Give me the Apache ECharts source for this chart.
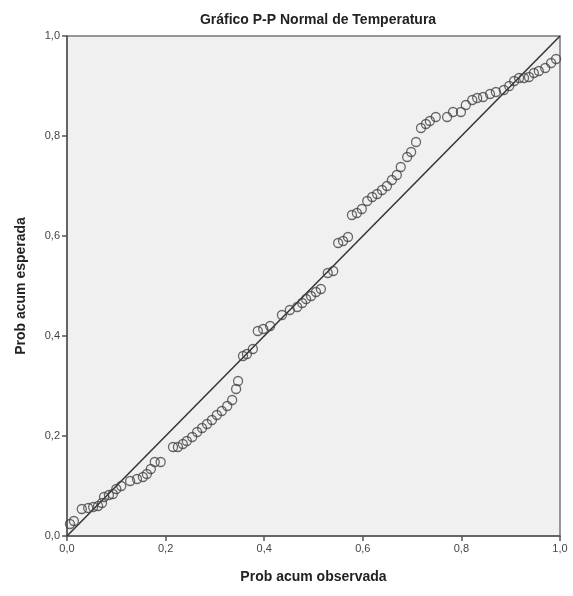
<!DOCTYPE html>
<html><head><meta charset="utf-8">
<script src="https://cdn.jsdelivr.net/npm/echarts@6/dist/echarts.min.js"></script>
<style>html,body{margin:0;padding:0;background:#fff}#c{width:573px;height:596px}</style>
</head><body><div id="c"></div>
<script>
var titleText = "Gráfico P-P Normal de Temperatura";
var xLabel = "Prob acum observada";
var yLabel = "Prob acum esperada";
var tickValues = [0, 0.2, 0.4, 0.6, 0.8, 1.0];
var observed = [0.006,0.014,0.030,0.043,0.053,0.063,0.071,0.075,0.085,0.093,0.100,0.110,0.128,0.142,0.154,0.162,0.170,0.178,0.190,
0.215,0.225,0.235,0.243,0.254,0.264,0.274,0.284,0.294,0.304,0.314,0.325,0.335,0.343,0.347,0.357,0.365,0.377,0.387,0.398,0.412,
0.436,0.452,0.467,0.477,0.485,0.495,0.505,0.515,0.529,0.540,0.550,0.560,0.570,0.578,0.588,0.598,0.609,0.619,0.629,0.639,0.649,
0.659,0.669,0.677,0.690,0.698,0.708,0.718,0.728,0.736,0.748,0.771,0.783,0.799,0.809,0.822,0.832,0.844,0.858,0.870,0.886,0.897,
0.907,0.917,0.927,0.937,0.947,0.957,0.970,0.982,0.992];
var expected = [0.024,0.030,0.054,0.056,0.058,0.060,0.066,0.078,0.082,0.084,0.094,0.100,0.110,0.114,0.118,0.124,0.134,0.148,0.148,
0.178,0.178,0.184,0.190,0.198,0.208,0.216,0.224,0.232,0.242,0.250,0.260,0.272,0.294,0.310,0.360,0.364,0.374,0.410,0.414,0.420,
0.442,0.452,0.458,0.466,0.474,0.480,0.488,0.494,0.526,0.530,0.586,0.590,0.598,0.642,0.646,0.654,0.670,0.678,0.684,0.692,0.700,
0.712,0.722,0.738,0.758,0.768,0.788,0.816,0.824,0.830,0.838,0.838,0.848,0.848,0.862,0.872,0.876,0.878,0.884,0.888,0.892,0.900,
0.910,0.916,0.916,0.918,0.926,0.930,0.936,0.946,0.954];
var refLine = [[0,0],[1,1]];

var pts = observed.map(function(v,i){return [v, expected[i]];});
var fmt = function(v){return v.toFixed(1).replace('.', ',');};
var chart = echarts.init(document.getElementById('c'), null, {renderer:'canvas'});
var axisCommon = {
  type:'value', min:0, max:1, interval:0.2,
  axisLine:{show:true, onZero:false, lineStyle:{color:'#555', width:1.5}},
  axisTick:{show:true, length:5, lineStyle:{color:'#555', width:1.5}},
  splitLine:{show:false},
  axisLabel:{formatter:fmt, color:'#444', fontFamily:'Arial, Liberation Sans', fontSize:11}
};
chart.setOption({
  animation:false,
  backgroundColor:'#ffffff',
  title:{text:titleText, left:313, textAlign:'center', top:8,
    textStyle:{fontFamily:'Arial, Liberation Sans', fontSize:14, fontWeight:'bold', color:'#222'}},
  grid:{left:67, right:13, top:36, bottom:60, show:true, backgroundColor:'#f0f0f0',
    borderColor:'#777', borderWidth:1.5, outerBoundsMode:'none', containLabel:false},
  xAxis:Object.assign({}, axisCommon, {
    name:xLabel, nameLocation:'middle', nameGap:34,
    nameTextStyle:{fontFamily:'Arial, Liberation Sans', fontSize:14, fontWeight:'bold', color:'#222'},
    axisLabel:Object.assign({}, axisCommon.axisLabel, {margin:7})
  }),
  yAxis:Object.assign({}, axisCommon, {
    name:yLabel, nameLocation:'middle', nameGap:39,
    nameTextStyle:{fontFamily:'Arial, Liberation Sans', fontSize:14, fontWeight:'bold', color:'#222'},
    axisLabel:Object.assign({}, axisCommon.axisLabel, {margin:7})
  }),
  series:[
    {type:'line', data:refLine, symbol:'none', lineStyle:{color:'#333', width:1.5}, z:2},
    {type:'scatter', data:pts, symbol:'circle', symbolSize:9,
      itemStyle:{color:'rgba(0,0,0,0)', borderColor:'#444', borderWidth:1.3}, z:3}
  ]
});
</script>
</body></html>
